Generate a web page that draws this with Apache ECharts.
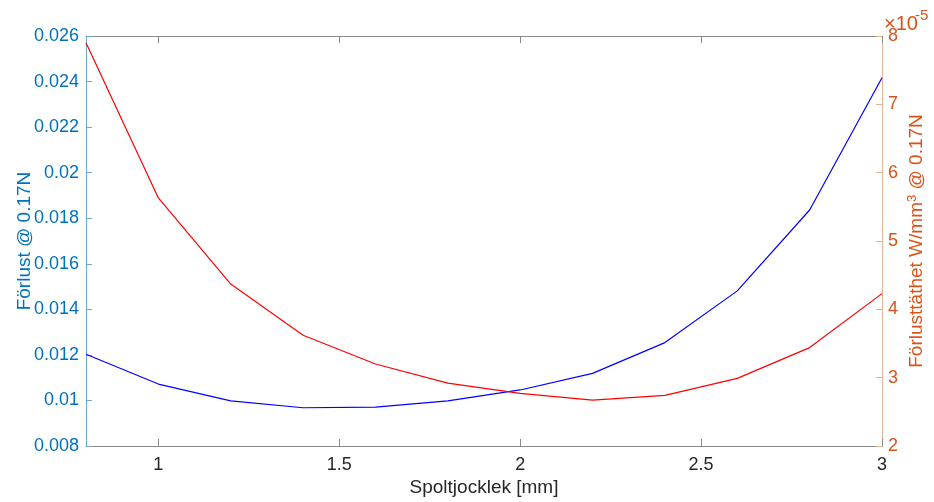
<!DOCTYPE html>
<html>
<head>
<meta charset="utf-8">
<script src="https://cdn.jsdelivr.net/npm/echarts@6/dist/echarts.min.js"></script>
<style>html,body{margin:0;padding:0;background:#fff;}#c{width:934px;height:502px;}</style>
</head>
<body>
<div id="c"></div>
<script>
// Spoltjocklek [mm]
const thickness = [0.8, 1.0, 1.2, 1.4, 1.6, 1.8, 2.0, 2.2, 2.4, 2.6, 2.8, 3.0];
// Förlust @ 0.17N (left axis)
const loss = [0.01203, 0.01072, 0.00998, 0.00968, 0.00971, 0.00998, 0.01046, 0.01119, 0.01254, 0.01481, 0.01836, 0.02417];
// Förlusttäthet W/mm^3 @ 0.17N, in units of 1e-5 (right axis)
const lossDensity = [7.90, 5.63, 4.37, 3.62, 3.20, 2.92, 2.77, 2.67, 2.74, 2.99, 3.44, 4.23];
const xTicks = [1, 1.5, 2, 2.5, 3];
const leftTicks = [0.008, 0.010, 0.012, 0.014, 0.016, 0.018, 0.020, 0.022, 0.024, 0.026];
const rightTicks = [2, 3, 4, 5, 6, 7, 8];

const FONT = '"Liberation Sans", Arial, sans-serif';
const BLUE_AX = '#0072BD';
const ORANGE_AX = '#D95319';

const chart = echarts.init(document.getElementById('c'), null, {renderer: 'canvas'});
chart.setOption({
  animation: false,
  backgroundColor: '#fff',
  grid: {left: 86, right: 51, top: 36, bottom: 56, containLabel: false},
  xAxis: [{
    type: 'value', min: 0.8, max: 3, position: 'bottom',
    name: 'Spoltjocklek [mm]', nameLocation: 'middle', nameGap: 32, nameMoveOverlap: false,
    nameTextStyle: {fontFamily: FONT, fontSize: 19, color: '#262626'},
    axisLine: {show: true, lineStyle: {color: '#8a8a8a', width: 1}},
    axisTick: {show: true, inside: true, length: 7, customValues: xTicks, lineStyle: {color: '#8a8a8a'}},
    axisLabel: {show: true, customValues: xTicks, margin: 10, fontFamily: FONT, fontSize: 18, color: '#262626',
      formatter: v => String(v)},
    splitLine: {show: false}
  }, {
    type: 'value', min: 0.8, max: 3, position: 'top',
    axisLine: {show: true, lineStyle: {color: '#8a8a8a', width: 1}},
    axisTick: {show: true, inside: true, length: 7, customValues: xTicks, lineStyle: {color: '#8a8a8a'}},
    axisLabel: {show: false},
    splitLine: {show: false}
  }],
  yAxis: [{
    type: 'value', min: 0.008, max: 0.026, position: 'left',
    name: 'Förlust @ 0.17N', nameLocation: 'middle', nameGap: 52, nameMoveOverlap: false,
    nameTextStyle: {fontFamily: FONT, fontSize: 19, color: BLUE_AX},
    axisLine: {show: true, lineStyle: {color: '#6aaad6', width: 1}},
    axisTick: {show: true, inside: true, length: 6, customValues: leftTicks, lineStyle: {color: '#6aaad6'}},
    axisLabel: {show: true, customValues: leftTicks, margin: 7, fontFamily: FONT, fontSize: 18, color: BLUE_AX,
      formatter: v => String(parseFloat(v.toFixed(3)))},
    splitLine: {show: false}
  }, {
    type: 'value', min: 2, max: 8, position: 'right',
    name: 'Förlusttäthet W/mm{sup|3} @ 0.17N', nameLocation: 'middle', nameGap: 24, nameRotate: 90, nameMoveOverlap: false,
    nameTextStyle: {fontFamily: FONT, fontSize: 19, color: ORANGE_AX,
      rich: {sup: {fontFamily: FONT, fontSize: 13, color: ORANGE_AX, verticalAlign: 'top', padding: [0, 0, 8, 0]}}},
    axisLine: {show: true, lineStyle: {color: '#e2b394', width: 1}},
    axisTick: {show: true, inside: true, length: 6, customValues: rightTicks, lineStyle: {color: '#e2b394'}},
    axisLabel: {show: true, customValues: rightTicks, margin: 6, fontFamily: FONT, fontSize: 18, color: ORANGE_AX,
      formatter: v => String(Math.round(v))},
    splitLine: {show: false}
  }],
  graphic: [
    {type: 'text', x: 884, y: 14, style: {text: '×10', fontFamily: FONT, fontSize: 20, fill: ORANGE_AX}},
    {type: 'text', x: 915, y: 8, style: {text: '-5', fontFamily: FONT, fontSize: 15, fill: ORANGE_AX}}
  ],
  series: [{
    type: 'line', xAxisIndex: 0, yAxisIndex: 0, showSymbol: false, symbol: 'none',
    data: thickness.map((x, i) => [x, loss[i]]),
    lineStyle: {color: '#0000ff', width: 1.2}, itemStyle: {color: '#0000ff'}
  }, {
    type: 'line', xAxisIndex: 0, yAxisIndex: 1, showSymbol: false, symbol: 'none',
    data: thickness.map((x, i) => [x, lossDensity[i]]),
    lineStyle: {color: '#ff0000', width: 1.2}, itemStyle: {color: '#ff0000'}
  }]
});
</script>
</body>
</html>
